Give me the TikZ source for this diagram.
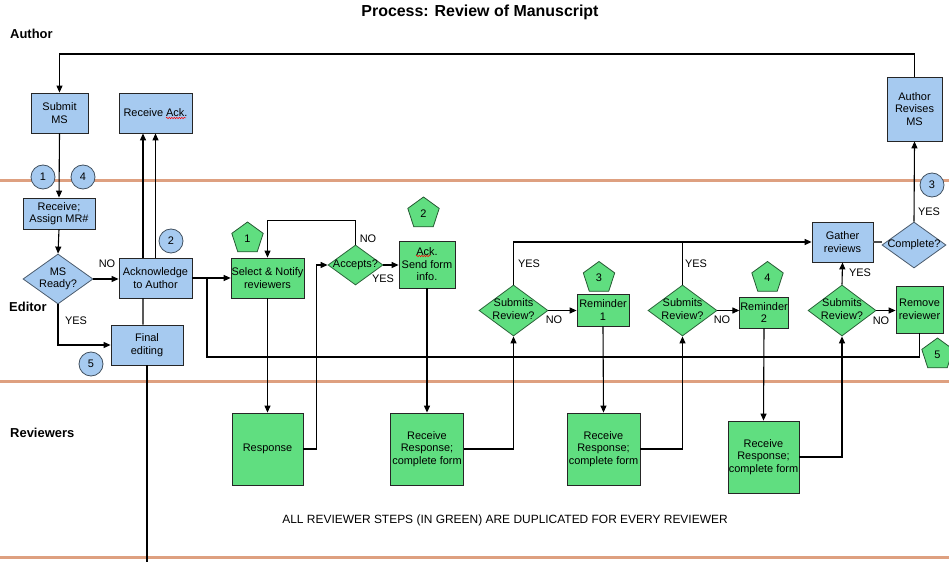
\documentclass[tikz,border=0pt]{standalone}
\usepackage{fontspec}
\setmainfont{Liberation Sans}
\usetikzlibrary{shapes.geometric,arrows.meta,decorations.pathmorphing}
\definecolor{bahn}{RGB}{222,160,128}
\definecolor{hblau}{RGB}{166,202,240}
\definecolor{hgruen}{RGB}{96,222,128}
\newcommand{\rautetext}[1]{\makebox[0pt]{\begin{tabular}{@{}c@{}}#1\end{tabular}}}
\begin{document}
\begin{tikzpicture}[x=1bp, y=-1bp,
	txt/.style={font=\fontsize{11}{12.5}\selectfont},
	abm/.style 2 args={minimum width=#1bp, minimum height=#2bp},
	kasten/.style={txt, draw=black!85, line width=0.8bp, align=center, inner sep=0.5bp},
	blaukasten/.style={kasten, fill=hblau},
	gruenkasten/.style={kasten, fill=hgruen},
	raute/.style={txt, diamond, line width=0.8bp, inner sep=0pt},
	blauraute/.style={raute, fill=hblau, draw=hblau!45!black},
	gruenraute/.style={raute, fill=hgruen, draw=hgruen!45!black},
	kreis/.style={txt, circle, draw=hblau!40!black, fill=hblau, line width=0.8bp, minimum size=24bp, inner sep=0pt},
	fuenfeck/.style={txt, regular polygon, regular polygon sides=5, draw=hgruen!40!black, fill=hgruen, line width=0.8bp, minimum size=33bp, inner sep=0pt},
	lbl/.style={txt, inner sep=0pt},
	bahnname/.style={font=\fontsize{13}{15}\selectfont\bfseries, inner sep=0pt, anchor=west},
	linie/.style={line width=1.1bp},
	pfeil/.style={linie, -{Triangle[length=7bp,width=6bp]}},
	bahnlinie/.style={line width=3bp, draw=bahn},
	wellen/.style={red, line width=0.5bp, decorate, decoration={snake, amplitude=0.7bp, segment length=2.5bp}}]
	\useasboundingbox (0,0) rectangle (949,562);
	% Titel und Bahnen
	\node [font=\fontsize{16}{18}\selectfont\bfseries, inner sep=0pt] (titel) at (480,12) {Process: Review of Manuscript};
	\draw [bahnlinie] (0,181) -- (949,181);
	\draw [bahnlinie] (0,381) -- (949,381);
	\draw [bahnlinie] (0,557) -- (949,557);
	\node [bahnname] (author) at (10,34) {Author};
	\node [bahnname] (editor) at (9,307) {Editor};
	\node [bahnname] (reviewers) at (10,433) {Reviewers};
	%%%% Author
	\node [blaukasten, abm={57}{40}] (submit) at (59.5,113) {Submit\\MS};
	\node [blaukasten, abm={73}{40}] (recack) at (155.5,113) {Receive Ack.};
	\node [blaukasten, abm={55}{64}] (revise) at (914.5,109) {Author\\Revises\\MS};
	%%%% Editor
	\node [blaukasten, abm={72}{31}] (assign) at (59,213.5) {Receive;\\Assign MR\#};
	\node [blauraute, abm={70}{50}] (ready) at (58,279) {\rautetext{MS\\Ready?}};
	\node [blaukasten, abm={73}{40}] (ackauth) at (155.5,278) {Acknowledge\\to Author};
	\node [blaukasten, abm={72}{40}] (final) at (147,345) {Final\\editing};
	\node [gruenkasten, abm={71}{40}] (select) at (267.5,278) {Select \& Notify\\reviewers};
	\node [gruenraute, abm={55}{40}] (accepts) at (355.5,265) {\rautetext{Accepts?}};
	\node [gruenkasten, abm={56}{47}] (acksend) at (427,264.5) {Ack.\\Send form\\info.};
	\node [gruenraute, abm={69}{51}] (sr1) at (513.5,310.5) {\rautetext{Submits\\Review?}};
	\node [gruenkasten, abm={52}{32}] (rem1) at (603,310) {Reminder\\1};
	\node [gruenraute, abm={69}{51}] (sr2) at (682.5,310.5) {\rautetext{Submits\\Review?}};
	\node [gruenkasten, abm={48}{31}] (rem2) at (764,312.5) {Reminder\\2};
	\node [gruenraute, abm={68}{51}] (sr3) at (842,310.5) {\rautetext{Submits\\Review?}};
	\node [blaukasten, abm={61}{40}] (gather) at (842.5,242) {Gather\\reviews};
	\node [blauraute, abm={64}{46}] (complete) at (914,245) {\rautetext{Complete?}};
	\node [gruenkasten, abm={47}{47}] (remove) at (919.5,309.5) {Remove\\reviewer};
	%%%% Reviewers
	\node [gruenkasten, abm={71}{72}] (resp) at (267.5,449) {Response};
	\node [gruenkasten, abm={73}{72}] (rr1) at (427,449) {Receive\\Response;\\complete form};
	\node [gruenkasten, abm={73}{72}] (rr2) at (603.5,449) {Receive\\Response;\\complete form};
	\node [gruenkasten, abm={71}{72}] (rr3) at (763.5,457) {Receive\\Response;\\complete form};
	\node [lbl, font=\fontsize{12}{14}\selectfont] (hinweis) at (505,520) {ALL REVIEWER STEPS (IN GREEN) ARE DUPLICATED FOR EVERY REVIEWER};
	% Nummern
	\node [kreis] (k1) at (43,177) {1};
	\node [kreis] (k4) at (83,177) {4};
	\node [kreis] (k2) at (171,241) {2};
	\node [kreis] (k5) at (91,364) {5};
	\node [kreis] (k3) at (932,185) {3};
	\node [fuenfeck] (f1) at (247.5,238.5) {1};
	\node [fuenfeck] (f2) at (423.5,213.5) {2};
	\node [fuenfeck] (f3) at (599,278) {3};
	\node [fuenfeck] (f4) at (767.5,278) {4};
	\node [fuenfeck] (f5) at (937.5,354.5) {5};
	% Hilfspunkte
	\coordinate (oben) at (0,54);
	\coordinate (knick) at (207,278);
	\coordinate (unten) at (207,357);
	\coordinate (ende) at (147,562);
	%%%% Verbindungen
	\draw [pfeil] (revise.north) -- (revise.north |- oben) -| (submit.north);
	\draw [pfeil] (submit.south) -- (assign.north);
	\draw [pfeil] (assign.south) -- (ready.north);
	\draw [pfeil] (ready.east) -- (ready.east -| ackauth.west);
	\draw [pfeil] (ready.south) |- (final.west);
	\draw [linie] ([xshift=-4bp]final.north) -- ([xshift=-12.5bp]ackauth.south);
	\draw [pfeil] ([xshift=-12.5bp]ackauth.north) -- ([xshift=-12.5bp]recack.south);
	\draw [pfeil] (ackauth.north) -- (recack.south);
	\draw [linie] (final.south) -- (ende);
	\draw [pfeil] (ackauth.east) -- (select.west);
	\draw [linie] (remove.south) |- (unten) -- (knick);
	\draw [pfeil] (select.south) -- (resp.north);
	\draw [pfeil] (resp.east) -- ++(13,0) |- (accepts.west);
	\draw [pfeil] (accepts.north) -- ++(0,-24) -| (select.north);
	\draw [pfeil] (accepts.east) -- (accepts.east -| acksend.west);
	\draw [pfeil] (acksend.south) -- (rr1.north);
	\draw [pfeil] (rr1.east) -| (sr1.south);
	\draw [pfeil] (sr1.north) |- (gather.west);
	\draw [linie] (sr2.north) -- (sr2.north |- gather.west);
	\draw [pfeil] (sr1.east) -- (sr1.east -| rem1.west);
	\draw [pfeil] (rem1.south) -- (rr2.north);
	\draw [pfeil] (rr2.east) -| (sr2.south);
	\draw [pfeil] (sr2.east) -- (sr2.east -| rem2.west);
	\draw [pfeil] (rem2.south) -- (rr3.north);
	\draw [pfeil] (rr3.east) -| (sr3.south);
	\draw [pfeil] (sr3.north) -- (gather.south);
	\draw [pfeil] (sr3.east) -- (sr3.east -| remove.west);
	\draw [linie, black!70] (gather.east) -- (gather.east -| complete.west);
	\draw [pfeil] (complete.north) -- (revise.south);
	% Beschriftungen
	\node [lbl] (no1) at (107,264) {NO};
	\node [lbl] (yes1) at (76,321) {YES};
	\node [lbl] (no2) at (368,239) {NO};
	\node [lbl] (yes2) at (383,279) {YES};
	\node [lbl] (yes3) at (529,264) {YES};
	\node [lbl] (no3) at (554,320) {NO};
	\node [lbl] (yes4) at (696,264) {YES};
	\node [lbl] (no4) at (722,320) {NO};
	\node [lbl] (yes5) at (860,273) {YES};
	\node [lbl] (no5) at (881,321) {NO};
	\node [lbl] (yes6) at (929,212) {YES};
	% Rechtschreibmarken
	\draw [wellen] (166,118) -- (186,118);
	\draw [wellen] (416,256) -- (431,256);
\end{tikzpicture}
\end{document}
